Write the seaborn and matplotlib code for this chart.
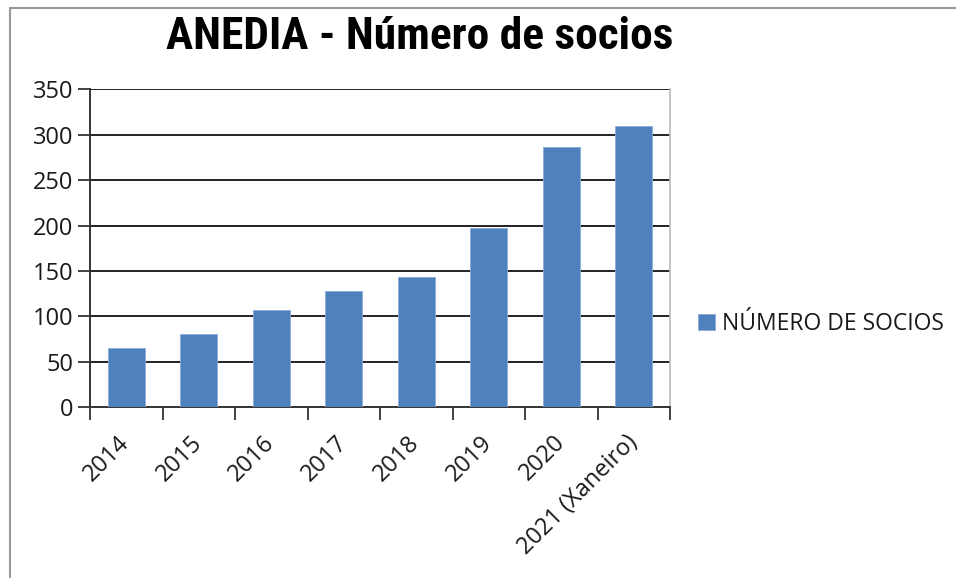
import matplotlib
matplotlib.use("Agg")
import matplotlib.pyplot as plt
import seaborn as sns
import pandas as pd
from matplotlib.lines import Line2D
from matplotlib import font_manager

years = ["2014", "2015", "2016", "2017", "2018", "2019", "2020", "2021 (Xaneiro)"]
socios = [65, 81, 107, 128, 143, 197, 286, 310]
yticks = [0, 50, 100, 150, 200, 250, 300, 350]
series_name = "NÚMERO DE SOCIOS"
title = "ANEDIA - Número de socios"

df = pd.DataFrame({"year": years, "socios": socios})

sns.set_theme(style="white")
plt.rcParams["font.family"] = ["Open Sans", "DejaVu Sans"]

# pick a condensed bold family for the title, if one is installed
bold_names = {f.name for f in font_manager.fontManager.ttflist
              if (isinstance(f.weight, int) and f.weight >= 600) or str(f.weight) == "bold"}
candidates = ["Liberation Sans Narrow", "Arial Narrow", "Roboto Condensed",
              "PT Sans Narrow", "Open Sans Condensed", "Asap Condensed",
              "Barlow Semi Condensed", "Liberation Sans"]
title_family = next((c for c in candidates if c in bold_names), "Liberation Sans")

fig = plt.figure(figsize=(9.56, 5.78), dpi=100)
ax = fig.add_axes([90/956, 1-407.3/578, 580/956, 318/578])

sns.barplot(data=df, x="year", y="socios", color="#4F81BD", width=0.51,
            edgecolor="#8AAAD8", linewidth=0.6, saturation=1, ax=ax,
            label=series_name, zorder=3)

ax.set_ylim(0, 350)
ax.set_xlim(-0.5, len(years) - 0.5)
ax.set_yticks(yticks)
ax.set_yticklabels([str(v) for v in yticks], fontsize=17, color="#1a1a1a")
ax.set_xlabel("")
ax.set_ylabel("")

for v in yticks[1:]:
    ax.axhline(v, color="#222222", lw=1.4, zorder=1)

ax.tick_params(axis="y", which="major", direction="out", length=9, width=1.3,
               color="#333333", pad=3, left=True)
ax.set_xticks(range(len(years)))
ax.set_xticks([i - 0.5 for i in range(len(years) + 1)], minor=True)
ax.tick_params(axis="x", which="major", length=0, pad=23)
ax.tick_params(axis="x", which="minor", direction="out", length=9, width=1.3,
               color="#333333", bottom=True)
ax.set_xticklabels(years, rotation=45, ha="right", va="center",
                   rotation_mode="anchor", fontsize=17, color="#1a1a1a")

for side in ["left", "bottom"]:
    ax.spines[side].set_color("#333333")
    ax.spines[side].set_linewidth(1.4)
ax.spines["top"].set_visible(False)
ax.spines["right"].set_color("#bbbbbb")
ax.spines["right"].set_linewidth(1.2)

t = fig.text(420/956, 1-37/578, title, ha="center", va="center",
             fontsize=34, fontweight="bold",
             family=[title_family, "DejaVu Sans"], color="black")
fig.canvas.draw()
w = t.get_window_extent().width
t.set_fontsize(34 * 506 / w)

leg = ax.legend(loc="center left", bbox_to_anchor=(698/956, 1-324/578),
                bbox_transform=fig.transFigure, frameon=False, fontsize=16.5,
                handlelength=0.75, handleheight=0.75, handletextpad=0.3,
                borderpad=0, borderaxespad=0)
for tx in leg.get_texts():
    tx.set_color("#1a1a1a")

fig.add_artist(Line2D([10/956, 10/956], [0, 1-8/578], transform=fig.transFigure,
                      color="#999999", lw=1.5))
fig.add_artist(Line2D([10/956, 1], [1-8/578, 1-8/578], transform=fig.transFigure,
                      color="#999999", lw=1.5))

fig.savefig("out.png", dpi=100)
